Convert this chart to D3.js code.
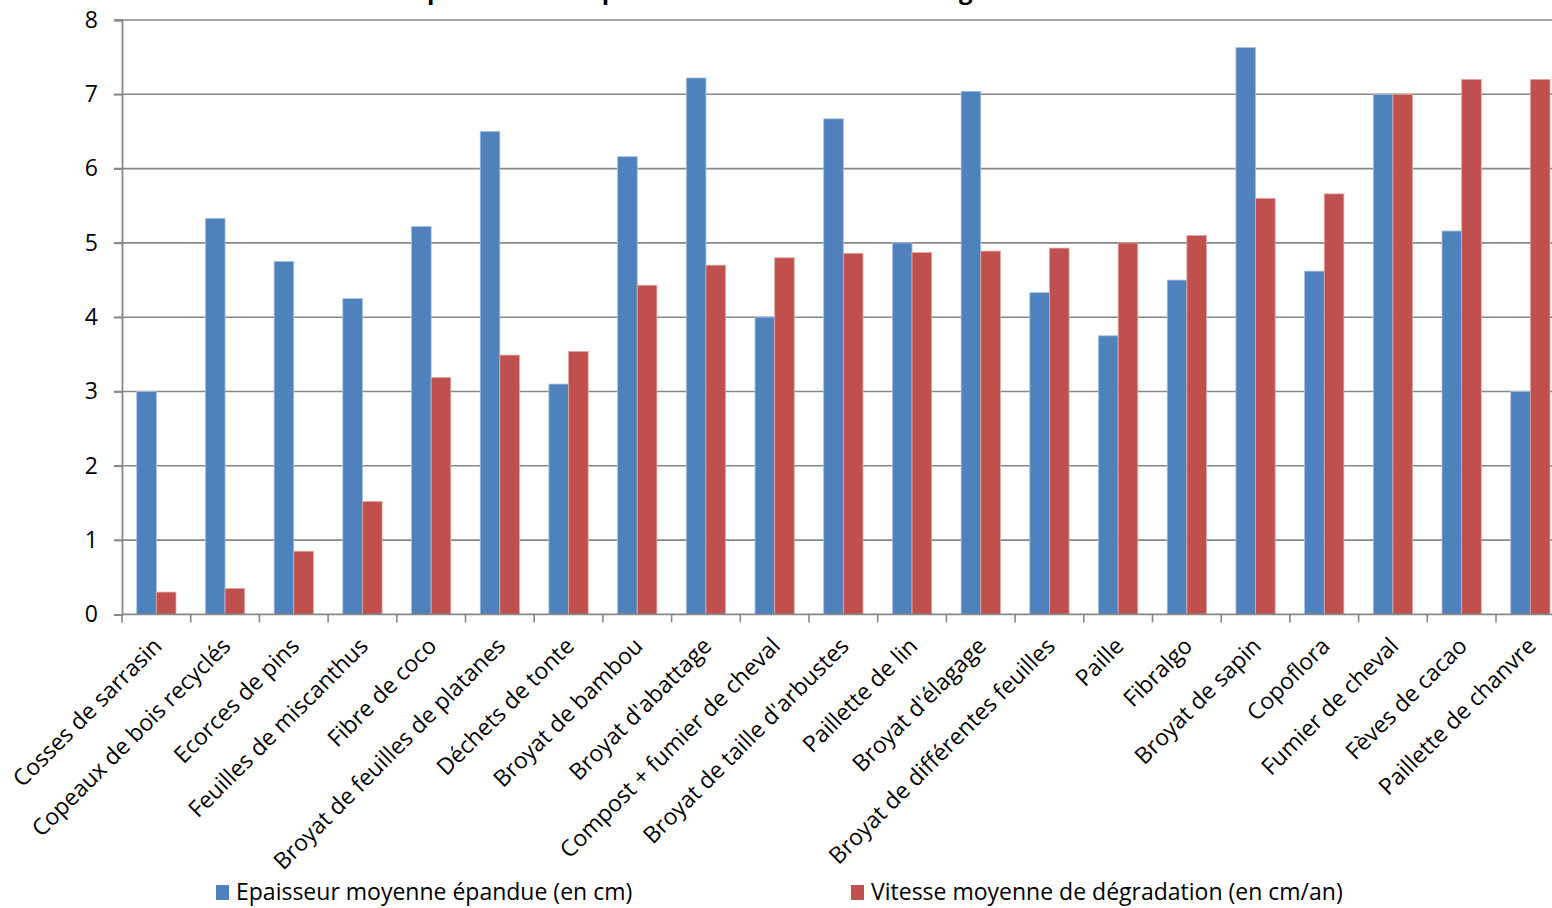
<!DOCTYPE html>
<html lang="fr">
<head>
<meta charset="utf-8">
<script src="https://cdn.jsdelivr.net/npm/d3@7"></script>
<style>
  html, body { margin: 0; padding: 0; background: #fff; overflow: hidden; }
  svg { display: block; font-family: "Open Sans", "Liberation Sans", sans-serif; }
</style>
</head>
<body>
<svg id="chart" width="1552" height="908"></svg>
<script>
// Paillages comparés : épaisseur épandue et vitesse de dégradation
const categories = [
  "Cosses de sarrasin", "Copeaux de bois recyclés", "Ecorces de pins",
  "Feuilles de miscanthus", "Fibre de coco", "Broyat de feuilles de platanes",
  "Déchets de tonte", "Broyat de bambou", "Broyat d'abattage",
  "Compost + fumier de cheval", "Broyat de taille d'arbustes", "Paillette de lin",
  "Broyat d'élagage", "Broyat de différentes feuilles", "Paille", "Fibralgo",
  "Broyat de sapin", "Copoflora", "Fumier de cheval", "Fèves de cacao",
  "Paillette de chanvre"
];
const epaisseur = [3.0, 5.33, 4.75, 4.25, 5.22, 6.5, 3.1, 6.16, 7.22, 4.0, 6.67,
                   5.0, 7.04, 4.33, 3.75, 4.5, 7.63, 4.62, 7.0, 5.16, 3.0];
const vitesse   = [0.3, 0.35, 0.85, 1.52, 3.19, 3.49, 3.54, 4.43, 4.7, 4.8, 4.86,
                   4.87, 4.89, 4.93, 5.0, 5.1, 5.6, 5.66, 7.0, 7.2, 7.2];
const seriesNames = ["Epaisseur moyenne épandue (en cm)", "Vitesse moyenne de dégradation (en cm/an)"];
const seriesColors = ["#4F81BD", "#C0504D"];
const seriesEdges = ["#A7C0DE", "#E0A8A6"];
const yTicks = [0, 1, 2, 3, 4, 5, 6, 7, 8];
const titleText = "Comparaison de l'épaisseur et de la vitesse de dégradation";

const svg = d3.select("#chart");
const plotLeft = 122, plotTop = 20, plotBottom = 614.4;
const band = 68.7;
const plotRight = plotLeft + band * categories.length; // plot runs past the right edge
const fontSize = 23;

const x = d3.scaleBand().domain(categories).range([plotLeft, plotRight]).paddingInner(0).paddingOuter(0);
const barW = x.bandwidth() / 3.5;
const xs = d3.scaleBand().domain([0, 1]).range([0.75 * barW, 2.75 * barW]);
const y = d3.scaleLinear().domain([0, 8]).range([plotBottom, plotTop]);

// title (sits mostly above the top edge of the page)
const title = svg.append("text")
  .attr("x", 0).attr("y", -1)
  .attr("font-size", 24).attr("font-weight", 700).attr("fill", "#000")
  .text(titleText);
const pStart = title.node().getStartPositionOfChar(3).x;
title.attr("x", 427 - pStart);

// horizontal gridlines
svg.append("g").selectAll("line").data(yTicks.filter(d => d > 0)).join("line")
  .attr("x1", plotLeft - 8).attr("x2", 1552)
  .attr("y1", d => y(d)).attr("y2", d => y(d))
  .attr("stroke", "#878787").attr("stroke-width", 1.6);

// bars
const rows = categories.map((c, i) => ({ c, v: [epaisseur[i], vitesse[i]] }));
const groups = svg.append("g").selectAll("g").data(rows).join("g")
  .attr("transform", d => `translate(${x(d.c)},0)`);
groups.selectAll("rect").data(d => d.v.map((v, k) => ({ v, k }))).join("rect")
  .attr("x", d => xs(d.k))
  .attr("width", xs.bandwidth())
  .attr("y", d => y(d.v))
  .attr("height", d => y(0) - y(d.v))
  .attr("fill", d => seriesColors[d.k])
  .attr("stroke", d => seriesEdges[d.k])
  .attr("stroke-width", 0.8);

// y axis
const yAxis = d3.axisLeft(y).tickValues(yTicks).tickSize(8).tickPadding(16).tickFormat(d3.format("d"));
const gy = svg.append("g").attr("transform", `translate(${plotLeft},0)`).call(yAxis);
gy.select(".domain").attr("stroke", "#878787").attr("stroke-width", 1.8);
gy.selectAll(".tick line").attr("stroke", "#878787").attr("stroke-width", 1.6);
gy.selectAll(".tick text").attr("font-size", fontSize).attr("fill", "#000")
  .attr("font-family", "'Open Sans', sans-serif");

// x axis with ticks at category boundaries
const boundaries = d3.range(categories.length + 1).map(i => plotLeft + i * band);
svg.append("line").attr("x1", plotLeft).attr("x2", 1552).attr("y1", plotBottom).attr("y2", plotBottom)
  .attr("stroke", "#878787").attr("stroke-width", 1.8);
svg.append("g").selectAll("line").data(boundaries).join("line")
  .attr("x1", d => d).attr("x2", d => d)
  .attr("y1", plotBottom).attr("y2", plotBottom + 8)
  .attr("stroke", "#878787").attr("stroke-width", 1.6);

svg.append("g").selectAll("text").data(categories).join("text")
  .attr("transform", d => `translate(${x(d) + x.bandwidth() / 2 + 7},${plotBottom + 33}) rotate(-45)`)
  .attr("text-anchor", "end")
  .attr("font-size", fontSize).attr("fill", "#000")
  .text(d => d);

// legend
const legendX = [216, 851];
const leg = svg.append("g").selectAll("g").data(seriesNames).join("g")
  .attr("transform", (d, i) => `translate(${legendX[i]},885)`);
leg.append("rect").attr("width", 13).attr("height", 15).attr("y", 0)
  .attr("fill", (d, i) => seriesColors[i]);
leg.append("text").attr("x", 20).attr("y", 15).attr("font-size", fontSize).attr("fill", "#000")
  .text(d => d);
</script>
</body>
</html>
